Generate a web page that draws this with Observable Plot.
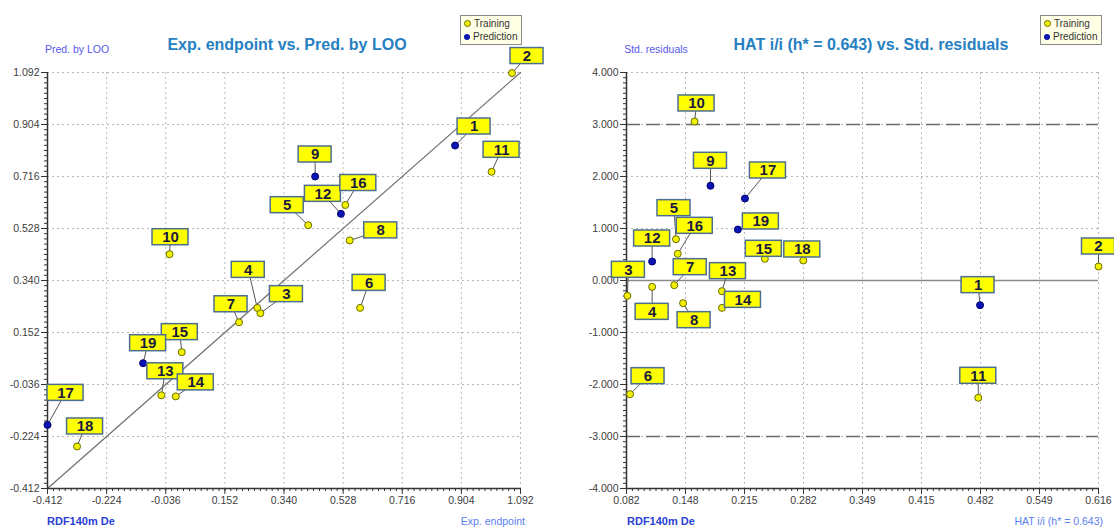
<!DOCTYPE html>
<html>
<head>
<meta charset="utf-8">
<script src="https://cdn.jsdelivr.net/npm/d3@7"></script>
<script src="https://cdn.jsdelivr.net/npm/@observablehq/plot@0.6"></script>
<style>
  html, body { margin: 0; padding: 0; background: #fff; }
  #wrap { position: relative; width: 1114px; height: 528px; overflow: hidden; font-family: "Liberation Sans", Arial, sans-serif; }
  .chart { position: absolute; top: 0; }
  .t { position: absolute; white-space: nowrap; }
  .title { font-size: 16px; font-weight: bold; color: #2680c2; transform: translate(-50%, -50%); }
  .ylab { font-size: 10.5px; color: #5757ee; transform: translate(-50%, -50%); }
  .xname { font-size: 11px; font-weight: bold; color: #2a3fd6; transform: translate(0, -50%); }
  .xlab { font-size: 10.5px; color: #5a7ff0; transform: translate(-100%, -50%); }
  .legend { position: absolute; background: #ffffe6; border: 1px solid #8a8a8a; font-size: 10px; color: #333; padding: 1px 4px 1px 3px; line-height: 13px; }
  .legend span.sym { display: inline-block; width: 6px; height: 6px; border-radius: 50%; margin-right: 3px; vertical-align: 0px; }
</style>
</head>
<body>
<div id="wrap"></div>
<script>
// ---------- data: left chart (Exp. endpoint vs. Pred. by LOO) ----------
const ids = [1,2,3,4,5,6,7,8,9,10,11,12,13,14,15,16,17,18,19];
const setType = ["P","T","T","T","T","T","T","T","P","T","T","P","T","T","T","T","P","T","P"];
const expEndpoint = [0.884,1.065,0.265,0.255,0.417,0.582,0.197,0.549,0.439,-0.024,1.000,0.521,-0.050,-0.004,0.015,0.535,-0.412,-0.318,-0.108];
const predLOO     = [0.828,1.090,0.222,0.241,0.540,0.241,0.189,0.485,0.716,0.435,0.733,0.581,-0.075,-0.079,0.081,0.613,-0.182,-0.260,0.041];
const leftTickLabels = ["-0.412","-0.224","-0.036","0.152","0.340","0.528","0.716","0.904","1.092"];

// ---------- data: right chart (HAT vs Std. residuals) ----------
const hat      = [0.482,0.616,0.083,0.111,0.138,0.086,0.136,0.146,0.177,0.159,0.480,0.111,0.190,0.190,0.2385,0.140,0.216,0.282,0.208];
const stdResid = [-0.474,0.269,-0.295,-0.122,0.795,-2.186,-0.090,-0.436,1.821,3.058,-2.256,0.365,-0.205,-0.526,0.417,0.513,1.577,0.385,0.981];
const hatTickLabels = ["0.082","0.148","0.215","0.282","0.349","0.415","0.482","0.549","0.616"];
const residTickLabels = ["-4.000","-3.000","-2.000","-1.000","0.000","1.000","2.000","3.000","4.000"];
const residLimits = [-3, 3];

// ---------- label box offsets (pixels, layout only) ----------
const leftLabelDx = [19,15,26,-9,-21,9,-8,31,0,1,10,-18,4,20,-2,13,18,8,5];
const leftLabelDy = [-19,-17,-19,-38,-20,-25,-18,-10,-22,-17,-22,-20,-24,-14,-20,-22,-32,-20,-20];
const rightLabelDx = [-2,0,1,0,-2,18,16,11,0,2,0,0,6,21,-1,17,23,-1,23];
const rightLabelDy = [-20,-20,-26,25,-31,-18,-18,17,-25,-18,-22,-23,-20,-8,-10,-28,-28,-11,-8];

// ---------- styling ----------
const W = 557, H = 528;
const COL_TRAIN = "#f2f200", COL_TRAIN_STROKE = "#6b6b00";
const COL_PRED = "#0a14b4", COL_PRED_STROKE = "#000070";
const fmt3 = d3.format(".3f");

function makeChart(opts) {
  const {xs, ys, xTickLabels, yTickLabels, xDomain, yDomain, mL, mR, mT, mB, dxs, dys, extra} = opts;
  const [x0, x1] = xDomain, [y0, y1] = yDomain;
  const xMajor = d3.range(9).map(i => x0 + i * (x1 - x0) / 8);
  const yMajor = d3.range(9).map(i => y0 + i * (y1 - y0) / 8);
  const xMinor = d3.range(81).map(i => x0 + i * (x1 - x0) / 80);
  const yMinor = d3.range(81).map(i => y0 + i * (y1 - y0) / 80);
  const kx = (x1 - x0) / (W - mL - mR);
  const ky = (y1 - y0) / (H - mT - mB);
  const pts = ids.map((id, i) => {
    const bw = String(id).length > 1 ? 36 : 33, bh = 16;
    const cx = xs[i] + dxs[i] * kx, cy = ys[i] - dys[i] * ky;
    return {id, x: xs[i], y: ys[i], t: setType[i], cx, cy,
      bx1: cx - bw / 2 * kx, bx2: cx + bw / 2 * kx, by1: cy - bh / 2 * ky, by2: cy + bh / 2 * ky};
  });
  return Plot.plot({
    width: W, height: H,
    marginLeft: mL, marginRight: mR, marginTop: mT, marginBottom: mB,
    x: {domain: xDomain, label: null},
    y: {domain: yDomain, label: null},
    style: {fontFamily: "Liberation Sans, Arial, sans-serif", fontSize: "10.5px", color: "#404040", background: "transparent", overflow: "visible"},
    marks: [
      Plot.gridX({ticks: xMajor, stroke: "#b8b8b8", strokeOpacity: 1, strokeDasharray: "2,3"}),
      Plot.gridY({ticks: yMajor, stroke: "#b8b8b8", strokeOpacity: 1, strokeDasharray: "2,3"}),
      ...extra,
      Plot.axisX({ticks: xMinor, tickSize: 3, tickFormat: () => "", stroke: "#333"}),
      Plot.axisY({ticks: yMinor, tickSize: 3, tickFormat: () => "", stroke: "#333"}),
      Plot.axisX({ticks: xMajor, tickSize: 6, tickPadding: 2, stroke: "#333", tickFormat: d => xTickLabels[xMajor.indexOf(d)], fill: "#404040"}),
      Plot.axisY({ticks: yMajor, tickSize: 6, tickPadding: 2, stroke: "#333", tickFormat: d => yTickLabels[yMajor.indexOf(d)], fill: "#404040"}),
      Plot.ruleX([x0], {stroke: "#333", strokeWidth: 1.5}),
      Plot.ruleY([y0], {stroke: "#333", strokeWidth: 1.5}),
      Plot.link(pts, {x1: "x", y1: "y", x2: "cx", y2: "cy", stroke: "#555", strokeWidth: 1}),
      Plot.dot(pts, {x: "x", y: "y", r: 3.5, fill: d => d.t === "P" ? COL_PRED : COL_TRAIN,
        stroke: d => d.t === "P" ? COL_PRED_STROKE : COL_TRAIN_STROKE, strokeWidth: 1}),
      Plot.rect(pts, {x1: "bx1", x2: "bx2", y1: "by1", y2: "by2", fill: "#ffff00", stroke: "#4d6f8f", strokeWidth: 1.5}),
      Plot.text(pts, {x: "cx", y: "cy", text: d => String(d.id), fontSize: 15, fontWeight: "bold", fill: "#1a1a40"})
    ]
  });
}

const wrap = document.getElementById("wrap");

// Left chart
const lx0 = -0.412, lx1 = 1.092;
const leftChart = makeChart({
  xs: expEndpoint, ys: predLOO, xTickLabels: leftTickLabels, yTickLabels: leftTickLabels,
  xDomain: [lx0, lx1], yDomain: [lx0, lx1], mL: 47, mR: 37, mT: 72, mB: 40,
  dxs: leftLabelDx, dys: leftLabelDy,
  extra: [Plot.line([[lx0, lx0], [lx1, lx1]], {stroke: "#707070", strokeWidth: 1.2})]
});
leftChart.classList.add("chart");
leftChart.style.left = "0px";
wrap.appendChild(leftChart);

// Right chart
const rightChart = makeChart({
  xs: hat, ys: stdResid, xTickLabels: hatTickLabels, yTickLabels: residTickLabels,
  xDomain: [0.082, 0.616], yDomain: [-4, 4], mL: 69, mR: 16, mT: 72, mB: 40,
  dxs: rightLabelDx, dys: rightLabelDy,
  extra: [
    Plot.ruleY([0], {stroke: "#8a8a8a", strokeWidth: 1.5}),
    Plot.ruleY(residLimits, {stroke: "#6a6a6a", strokeWidth: 1.5, strokeDasharray: "14,6"})
  ]
});
rightChart.classList.add("chart");
rightChart.style.left = "557px";
wrap.appendChild(rightChart);

// HTML texts
function addText(cls, txt, x, y) {
  const d = document.createElement("div");
  d.className = "t " + cls;
  d.textContent = txt;
  d.style.left = x + "px"; d.style.top = y + "px";
  wrap.appendChild(d);
}
addText("title", "Exp. endpoint vs. Pred. by LOO", 287, 45);
addText("title", "HAT i/i (h* = 0.643) vs. Std. residuals", 871, 45);
addText("ylab", "Pred. by LOO", 77, 49);
addText("ylab", "Std. residuals", 656, 49);
addText("xname", "RDF140m  De", 47, 521);
addText("xname", "RDF140m  De", 627, 521);
addText("xlab", "Exp. endpoint", 525, 521);
addText("xlab", "HAT i/i (h* = 0.643)", 1103, 521);

function addLegend(x, y) {
  const d = document.createElement("div");
  d.className = "legend";
  d.style.left = x + "px"; d.style.top = y + "px";
  d.innerHTML = '<div><span class="sym" style="background:' + COL_TRAIN + ';border:1px solid ' + COL_TRAIN_STROKE + ';width:5px;height:5px"></span>Training</div>' +
                '<div><span class="sym" style="background:' + COL_PRED + '"></span>Prediction</div>';
  wrap.appendChild(d);
}
addLegend(460, 15);
addLegend(1040, 15);
</script>
</body>
</html>
